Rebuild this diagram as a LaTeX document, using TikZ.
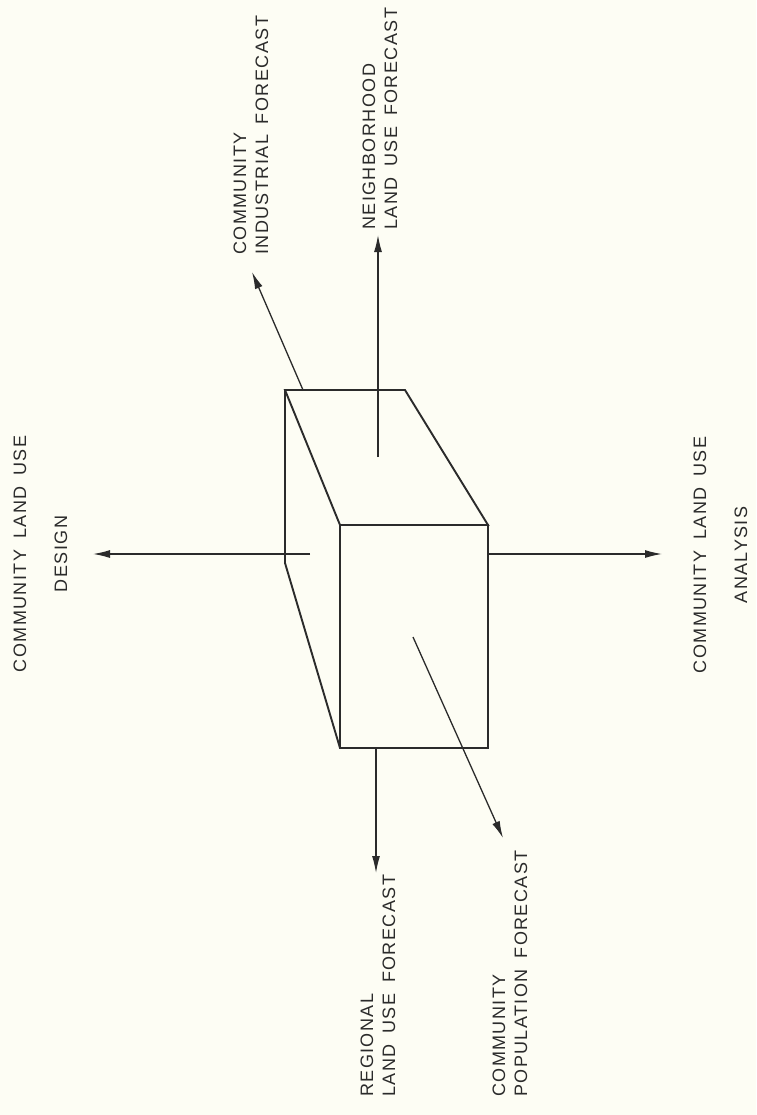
\documentclass[tikz,border=0pt]{standalone}
\usepackage{fontspec}
\setmainfont{Liberation Sans}
\usetikzlibrary{arrows.meta}
\definecolor{ink}{HTML}{2B2B2B}
\definecolor{paper}{HTML}{FDFDF4}
\newfontfamily\lblfam[LetterSpace=8]{Liberation Sans}
\newcommand\lblfont{\lblfam\fontsize{18}{22}\selectfont\spaceskip=0.6em\relax}
\begin{document}
\begin{tikzpicture}[x=1pt,y=-1pt,
  edge/.style={draw=ink,line width=1.9pt,line join=miter},
  flow/.style={draw=ink,line width=1.3pt,-{Latex[length=17pt,width=8pt]}},
  lbl/.style={rotate=90,inner sep=0pt,text=ink,font=\lblfont,align=left,anchor=base west},
  clbl/.style={rotate=90,inner sep=0pt,text=ink,font=\lblfont,align=center,anchor=base}]
\fill[paper] (0,0) rectangle (756,1115);
\useasboundingbox (0,0) rectangle (756,1115);
% box corners
\coordinate (A) at (285,390);
\coordinate (B) at (405,390);
\coordinate (C) at (488,525);
\coordinate (D) at (340,525);
\coordinate (E) at (488,748);
\coordinate (F) at (340,748);
\coordinate (G) at (285,563);
\draw[edge] (A) -- (B) -- (C) -- (D) -- cycle;
\draw[edge] (D) -- (C) -- (E) -- (F) -- cycle;
\draw[edge] (A) -- (G) -- (F);
% arrow start points
\coordinate (sN) at (378,457);
\coordinate (sI) at (303,390);
\coordinate (sD) at (310,554);
\coordinate (sA) at (488,554);
\coordinate (sR) at (376,748);
\coordinate (sP) at (413,637);
% arrow tips
\coordinate (tN) at (378,235);
\coordinate (tI) at (252,272);
\coordinate (tD) at (93,554);
\coordinate (tA) at (662,554);
\coordinate (tR) at (376,873);
\coordinate (tP) at (503,838);
\draw[flow] (sN) -- (tN);
\draw[flow] (sI) -- (tI);
\draw[flow] (sD) -- (tD);
\draw[flow] (sA) -- (tA);
\draw[flow] (sR) -- (tR);
\draw[flow] (sP) -- (tP);
% labels (anchor = baseline of the last line)
\node[lbl] (lI) at (268,255) {COMMUNITY\\INDUSTRIAL FORECAST};
\node[lbl] (lN) at (397,230) {NEIGHBORHOOD\\LAND USE FORECAST};
\node[lbl] (lR) at (395,1097) {REGIONAL\\LAND USE FORECAST};
\node[lbl] (lP) at (527,1097) {COMMUNITY\\POPULATION FORECAST};
\node[clbl] (lA) at (747,555) {COMMUNITY LAND USE\\[19pt]ANALYSIS};
\node[clbl] (lD) at (67,554) {COMMUNITY LAND USE\\[19pt]DESIGN};
\end{tikzpicture}
\end{document}
